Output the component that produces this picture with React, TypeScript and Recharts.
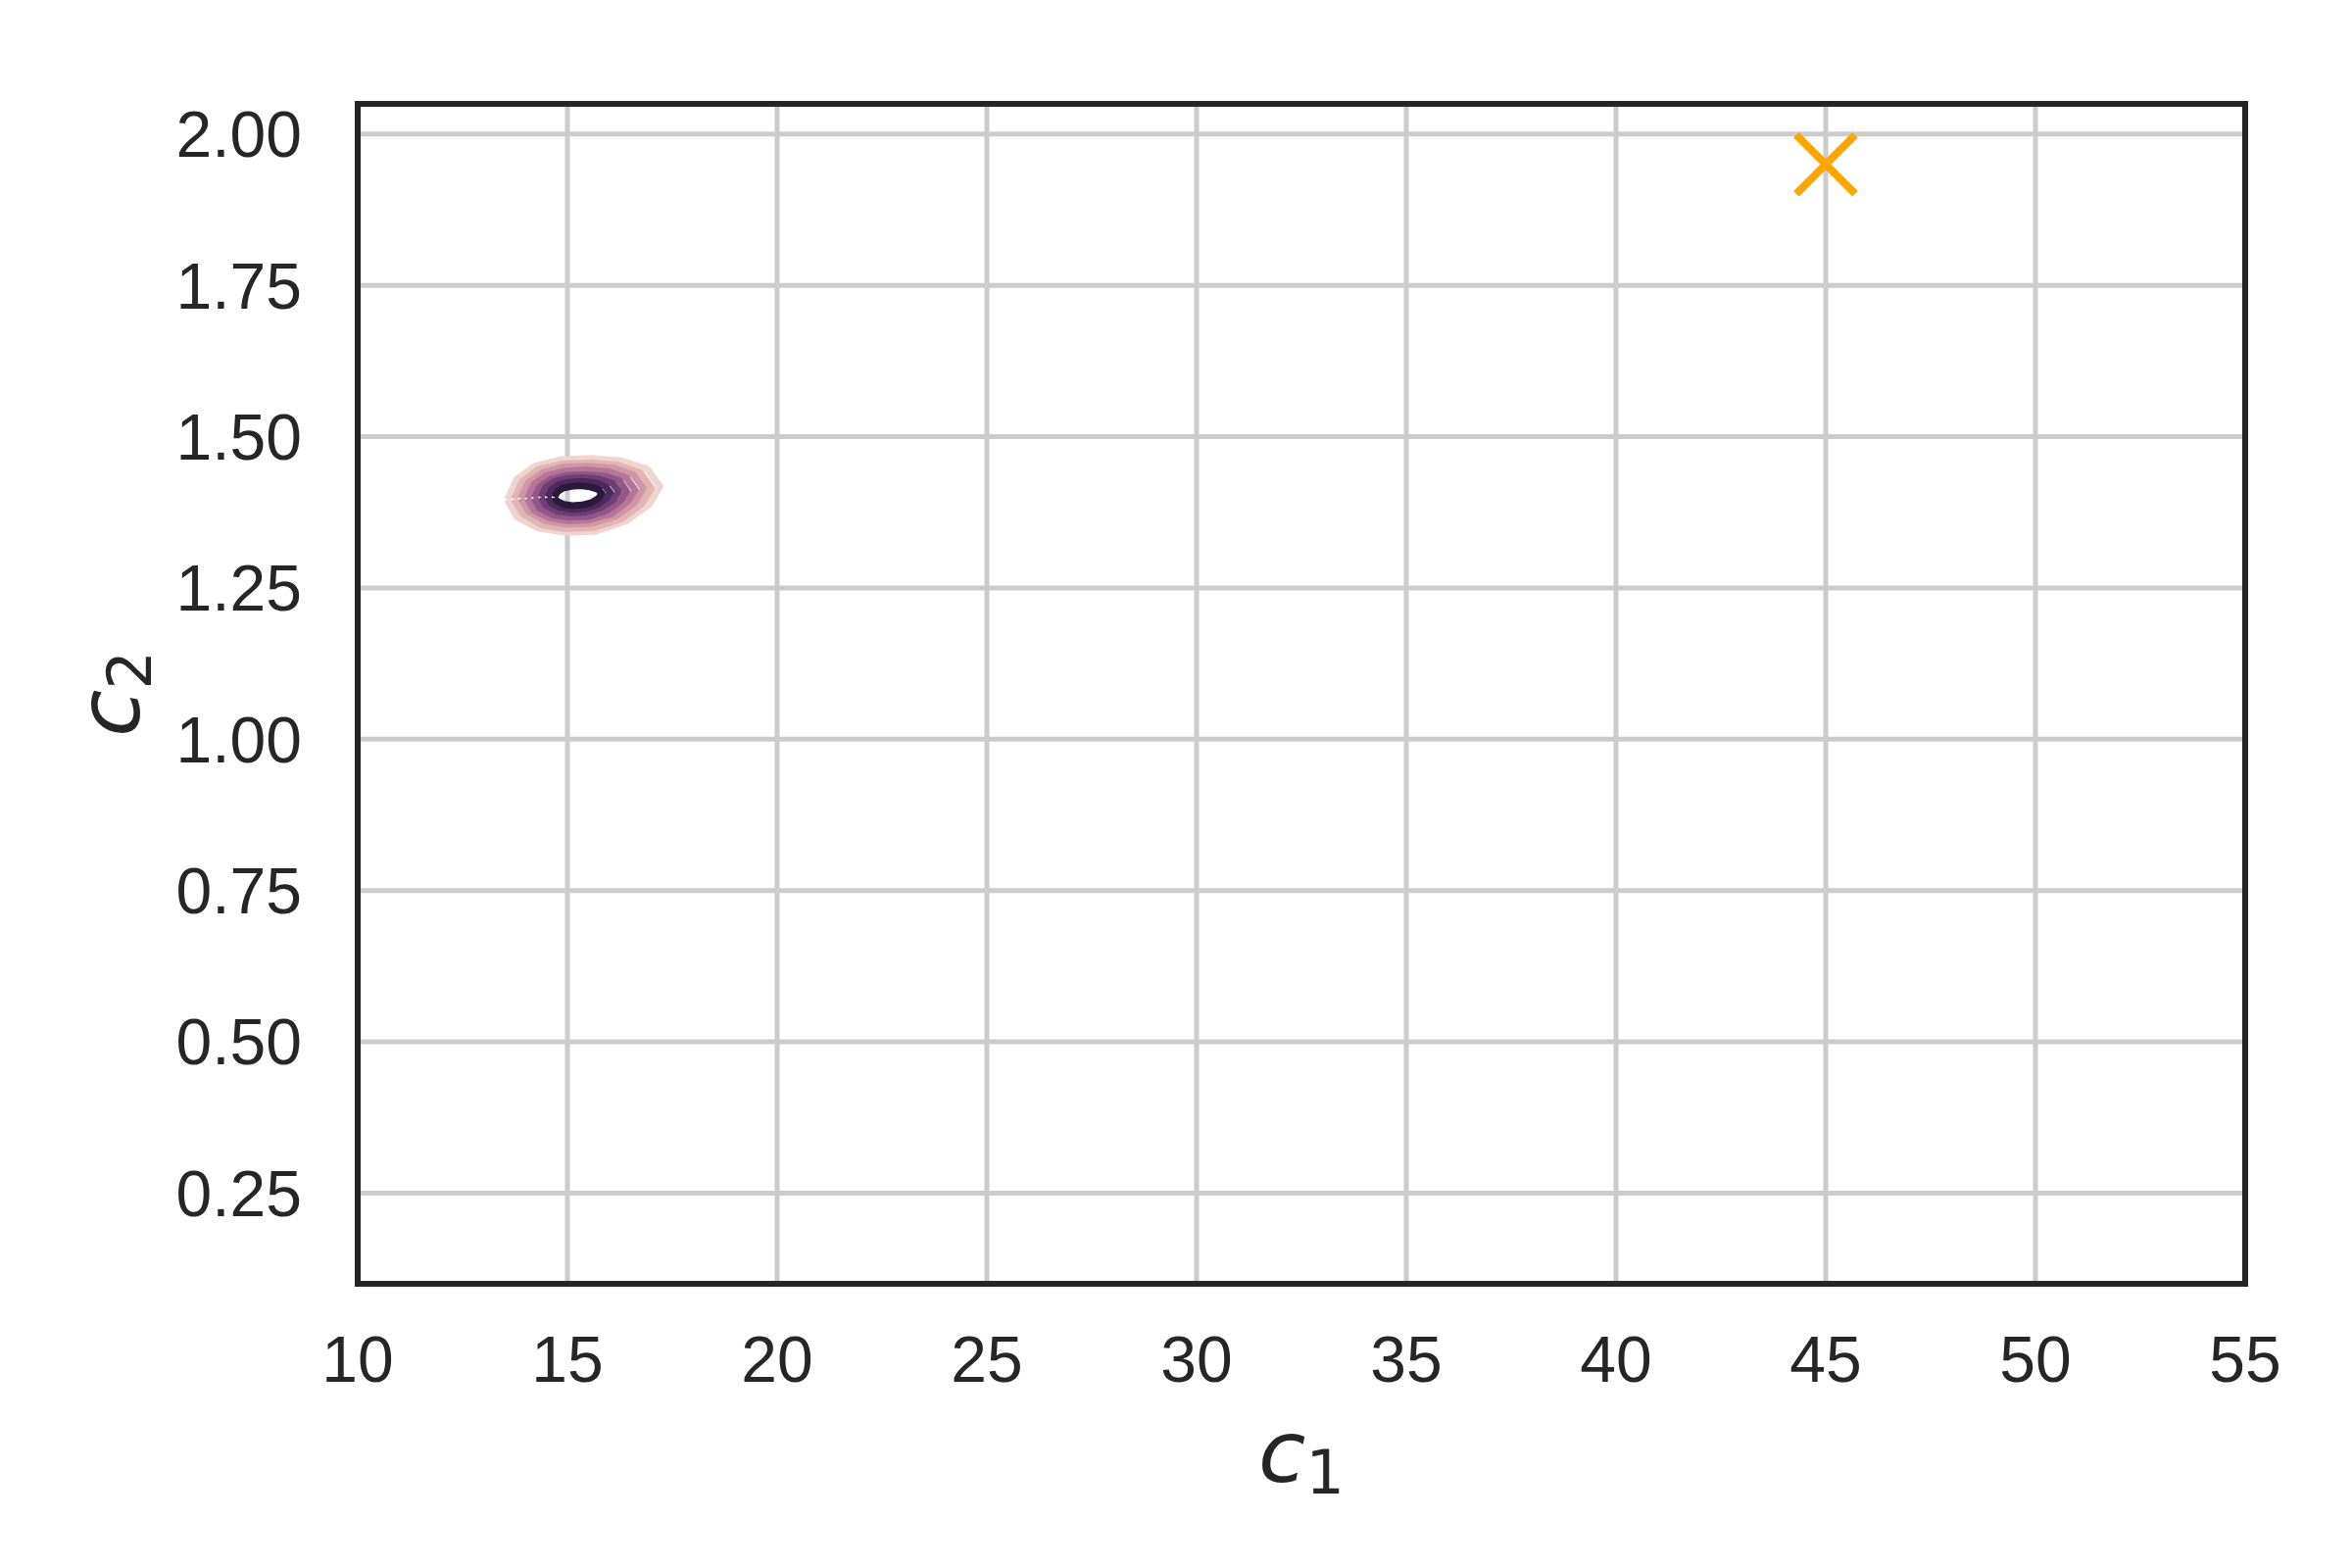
import React from "react";
import { ScatterChart, Scatter, XAxis, YAxis, CartesianGrid, ReferenceArea } from "recharts";

// x ticks (c1) and y ticks (c2)
const xTicks = [10, 15, 20, 25, 30, 35, 40, 45, 50, 55];
const yTicks = [0.25, 0.5, 0.75, 1.0, 1.25, 1.5, 1.75, 2.0];

// KDE contour levels, outermost (lowest density) first
const level1: [number, number][] = [
  [13.57, 1.396], [13.79, 1.429], [14.22, 1.451], [14.84, 1.462], [15.57, 1.464], [16.29, 1.460],
  [16.91, 1.446], [17.2, 1.418], [16.95, 1.388], [16.4, 1.361], [15.68, 1.344], [14.95, 1.342],
  [14.3, 1.349], [13.79, 1.368],
];
const level2: [number, number][] = [
  [13.73, 1.397], [13.93, 1.426], [14.32, 1.446], [14.88, 1.455], [15.53, 1.457], [16.19, 1.453],
  [16.74, 1.440], [17.0, 1.415], [16.77, 1.389], [16.28, 1.364], [15.63, 1.350], [14.97, 1.348],
  [14.39, 1.354], [13.93, 1.373],
];
const level3: [number, number][] = [
  [13.89, 1.398], [14.07, 1.424], [14.42, 1.441], [14.91, 1.450], [15.49, 1.451], [16.08, 1.448],
  [16.57, 1.437], [16.81, 1.415], [16.6, 1.391], [16.16, 1.369], [15.58, 1.357], [15.0, 1.355],
  [14.47, 1.361], [14.07, 1.377],
];
const level4: [number, number][] = [
  [14.05, 1.398], [14.2, 1.421], [14.51, 1.436], [14.95, 1.443], [15.46, 1.445], [15.97, 1.442],
  [16.4, 1.432], [16.61, 1.412], [16.43, 1.393], [16.05, 1.373], [15.53, 1.363], [15.02, 1.361],
  [14.56, 1.366], [14.2, 1.379],
];
const level5: [number, number][] = [
  [14.21, 1.399], [14.34, 1.417], [14.61, 1.430], [14.98, 1.436], [15.42, 1.437], [15.86, 1.435],
  [16.24, 1.427], [16.41, 1.410], [16.26, 1.394], [15.93, 1.378], [15.49, 1.368], [15.05, 1.367],
  [14.65, 1.371], [14.34, 1.382],
];
const level6: [number, number][] = [
  [14.37, 1.400], [14.48, 1.416], [14.7, 1.426], [15.02, 1.431], [15.39, 1.432], [15.75, 1.430],
  [16.07, 1.423], [16.22, 1.410], [16.09, 1.396], [15.81, 1.383], [15.44, 1.375], [15.07, 1.374],
  [14.74, 1.377], [14.48, 1.387],
];
const level7: [number, number][] = [
  [14.53, 1.400], [14.62, 1.412], [14.8, 1.421], [15.05, 1.425], [15.35, 1.426], [15.65, 1.424],
  [15.9, 1.418], [16.02, 1.408], [15.91, 1.397], [15.69, 1.387], [15.39, 1.381], [15.1, 1.380],
  [14.83, 1.383], [14.62, 1.390],
];
const level8: [number, number][] = [
  [14.69, 1.400], [14.76, 1.409], [14.89, 1.415], [15.09, 1.418], [15.31, 1.419], [15.54, 1.417],
  [15.73, 1.413], [15.82, 1.406], [15.74, 1.398], [15.57, 1.391], [15.35, 1.387], [15.12, 1.386],
  [14.92, 1.388], [14.76, 1.393],
];

// the single highlighted point
const target = [{ x: 45, y: 1.95 }];

const levels = [level1, level2, level3, level4, level5, level6, level7, level8];
const levelColors = ["#efd4cf", "#e2b5b3", "#cf96a5", "#b47596", "#935889", "#703e77", "#4c2a5e", "#2c1a3d"];

const toPoints = (pts: [number, number][]) => {
  const out = pts.map(([x, y]) => ({ x, y }));
  out.push({ x: pts[0][0], y: pts[0][1] }); // close the ring
  return out;
};

const TICK_FONT = "'Liberation Sans', Arial, Helvetica, sans-serif";
const MATH_FONT = "'DejaVu Sans', sans-serif";
const INK = "#262626";

const Cross = ({ cx, cy }: any) => {
  const h = 30;
  return (
    <g stroke="#ffa500" strokeWidth={8}>
      <line x1={cx - h} y1={cy - h} x2={cx + h} y2={cy + h} />
      <line x1={cx - h} y1={cy + h} x2={cx + h} y2={cy - h} />
    </g>
  );
};

const XLabel = ({ viewBox }: any) => {
  const cx = viewBox.x + viewBox.width / 2;
  const y = viewBox.y + 202;
  return (
    <text x={cx} y={y} textAnchor="middle" fill={INK} fontFamily={MATH_FONT} fontSize={88}>
      <tspan fontStyle="italic">c</tspan>
      <tspan fontSize={62} dy={12}>1</tspan>
    </text>
  );
};

const YLabel = ({ viewBox }: any) => {
  const x = viewBox.x + 77;
  const cy = viewBox.y + viewBox.height / 2;
  return (
    <text
      x={x}
      y={cy}
      transform={`rotate(-90, ${x}, ${cy})`}
      textAnchor="middle"
      fill={INK}
      fontFamily={MATH_FONT}
      fontSize={88}
    >
      <tspan fontStyle="italic">c</tspan>
      <tspan fontSize={62} dy={12}>2</tspan>
    </text>
  );
};

export default function App() {
  return (
    <div style={{ position: "fixed", left: 0, top: 0, width: 2400, height: 1600, background: "#fff" }}>
      <ScatterChart width={2400} height={1600} margin={{ top: 106, right: 109, bottom: 40, left: 65 }}>
        <CartesianGrid stroke="#cccccc" strokeWidth={5} />
        <XAxis
          type="number"
          dataKey="x"
          domain={[10, 55]}
          ticks={xTicks}
          allowDataOverflow
          height={250}
          tickSize={0}
          tickMargin={53}
          axisLine={false}
          tickLine={false}
          tick={{ fill: INK, fontSize: 66, fontFamily: TICK_FONT }}
          label={{ content: <XLabel /> }}
        />
        <YAxis
          type="number"
          dataKey="y"
          domain={[0.1, 2.05]}
          ticks={yTicks}
          allowDataOverflow
          width={300}
          tickSize={0}
          tickMargin={57}
          axisLine={false}
          tickLine={false}
          tickFormatter={(v: number) => v.toFixed(2)}
          tick={{ fill: INK, fontSize: 66, fontFamily: TICK_FONT }}
          label={{ content: <YLabel /> }}
        />
        {levels.map((lv, i) => (
          <Scatter
            key={i}
            data={toPoints(lv)}
            line={{ stroke: levelColors[i], strokeWidth: 7, strokeLinejoin: "round" }}
            shape={() => <g />}
            isAnimationActive={false}
          />
        ))}
        <Scatter data={target} shape={<Cross />} isAnimationActive={false} />
        <ReferenceArea x1={10} x2={55} y1={0.1} y2={2.05} fill="none" stroke={INK} strokeWidth={6} />
      </ScatterChart>
    </div>
  );
}
